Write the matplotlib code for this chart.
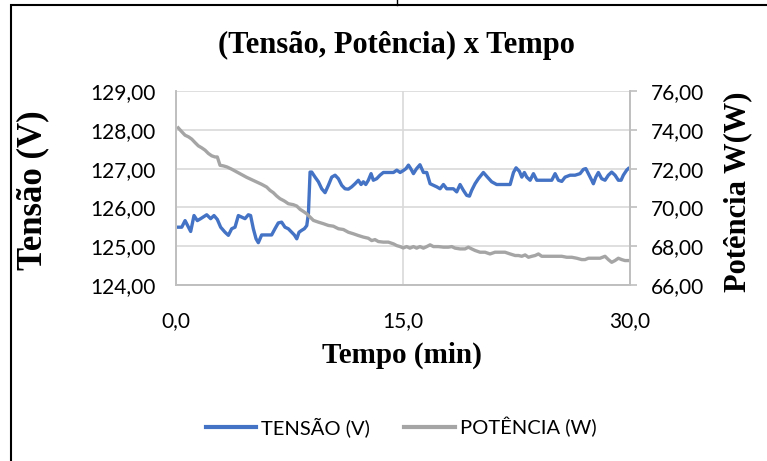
import matplotlib
matplotlib.use("Agg")
from matplotlib import pyplot as plt
from matplotlib.lines import Line2D
from matplotlib.patches import Rectangle

# tensao (V)
t_tensao = [0.15, 0.38, 0.60, 0.82, 0.97, 1.19, 1.41, 1.63, 2.03, 2.29, 2.51, 2.73, 2.95, 3.24,
            3.46, 3.68, 3.90, 4.12, 4.34, 4.56, 4.78, 4.93, 5.11, 5.29, 5.44, 5.66, 5.99, 6.32,
            6.54, 6.76, 6.98, 7.20, 7.42, 7.64, 7.82, 7.98, 8.13, 8.31, 8.48, 8.64, 8.75, 8.86,
            8.97, 9.19, 9.41, 9.63, 9.85, 10.07, 10.29, 10.51, 10.73, 10.95, 11.17, 11.39, 11.61,
            11.83, 12.05, 12.23, 12.38, 12.54, 12.71, 12.89, 13.04, 13.26, 13.48, 13.70, 14.03,
            14.37, 14.59, 14.81, 15.02, 15.20, 15.36, 15.51, 15.69, 15.90, 16.12, 16.35, 16.57,
            16.79, 17.01, 17.23, 17.45, 17.67, 17.89, 18.11, 18.33, 18.55, 18.77, 18.99, 19.21,
            19.39, 19.54, 19.76, 19.98, 20.31, 20.58, 20.86, 21.19, 21.63, 22.08, 22.30, 22.47,
            22.69, 22.85, 23.02, 23.18, 23.40, 23.62, 23.84, 24.17, 24.50, 24.83, 25.05, 25.27,
            25.49, 25.71, 26.04, 26.37, 26.70, 26.92, 27.08, 27.25, 27.47, 27.58, 27.74, 27.91,
            28.13, 28.35, 28.57, 28.79, 29.01, 29.23, 29.41, 29.56, 29.78, 29.89]
tensao = [125.49, 125.49, 125.66, 125.49, 125.38, 125.79, 125.66, 125.71, 125.81, 125.71, 125.79,
          125.69, 125.49, 125.36, 125.28, 125.45, 125.49, 125.79, 125.75, 125.71, 125.81, 125.79,
          125.45, 125.19, 125.09, 125.29, 125.29, 125.29, 125.45, 125.60, 125.62, 125.49, 125.45,
          125.36, 125.29, 125.19, 125.36, 125.41, 125.45, 125.53, 125.84, 126.91, 126.91, 126.78,
          126.66, 126.48, 126.38, 126.57, 126.78, 126.83, 126.74, 126.57, 126.48, 126.47, 126.53,
          126.61, 126.70, 126.59, 126.66, 126.59, 126.70, 126.87, 126.70, 126.74, 126.83, 126.90,
          126.90, 126.90, 126.96, 126.90, 126.95, 127.00, 127.09, 127.00, 126.87, 127.00, 127.10,
          126.90, 126.90, 126.61, 126.57, 126.53, 126.48, 126.59, 126.48, 126.48, 126.48, 126.40,
          126.59, 126.44, 126.31, 126.29, 126.44, 126.61, 126.74, 126.90, 126.78, 126.66, 126.59,
          126.59, 126.59, 126.90, 127.02, 126.93, 126.78, 126.90, 126.78, 126.70, 126.87, 126.70,
          126.70, 126.70, 126.70, 126.87, 126.70, 126.67, 126.78, 126.83, 126.83, 126.87, 126.98,
          127.00, 126.87, 126.70, 126.61, 126.78, 126.90, 126.74, 126.70, 126.83, 126.91, 126.83,
          126.70, 126.70, 126.83, 126.96, 127.00]

# potencia (W)
t_potencia = [0.15, 0.38, 0.60, 0.82, 1.04, 1.26, 1.48, 1.70, 1.92, 2.14, 2.36, 2.58, 2.73, 2.91,
              3.13, 3.35, 3.68, 4.01, 4.34, 4.67, 5.00, 5.33, 5.66, 5.99, 6.21, 6.43, 6.65, 6.87,
              7.09, 7.20, 7.42, 7.75, 7.98, 8.20, 8.42, 8.64, 8.86, 9.08, 9.41, 9.74, 10.07, 10.40,
              10.73, 11.06, 11.39, 11.72, 12.05, 12.38, 12.71, 12.93, 13.15, 13.37, 13.70, 14.03,
              14.37, 14.59, 14.81, 15.02, 15.24, 15.46, 15.69, 15.90, 16.12, 16.35, 16.57, 16.79,
              17.01, 17.34, 17.67, 18.00, 18.22, 18.44, 18.77, 19.10, 19.32, 19.54, 19.76, 20.09,
              20.42, 20.75, 21.08, 21.41, 21.74, 22.08, 22.41, 22.63, 22.85, 23.07, 23.29, 23.51,
              23.73, 23.95, 24.17, 24.50, 24.83, 25.16, 25.49, 25.82, 26.15, 26.48, 26.81, 27.03,
              27.25, 27.69, 28.02, 28.35, 28.57, 28.79, 29.01, 29.23, 29.45, 29.67, 29.89]
potencia = [74.10, 73.90, 73.72, 73.64, 73.52, 73.34, 73.17, 73.07, 72.95, 72.78, 72.66, 72.60,
            72.60, 72.17, 72.14, 72.09, 71.97, 71.83, 71.69, 71.55, 71.43, 71.31, 71.19, 71.05,
            70.88, 70.76, 70.59, 70.45, 70.36, 70.31, 70.19, 70.14, 70.07, 69.90, 69.79, 69.67,
            69.50, 69.33, 69.24, 69.16, 69.07, 69.03, 68.90, 68.86, 68.72, 68.64, 68.55, 68.47,
            68.41, 68.29, 68.34, 68.24, 68.21, 68.21, 68.12, 68.03, 67.98, 67.91, 67.98, 67.90,
            67.98, 67.90, 67.98, 67.90, 67.98, 68.07, 67.98, 67.98, 67.95, 67.95, 67.98, 67.90,
            67.86, 67.86, 67.95, 67.86, 67.78, 67.69, 67.69, 67.60, 67.69, 67.69, 67.69, 67.60,
            67.52, 67.52, 67.48, 67.55, 67.43, 67.48, 67.52, 67.60, 67.48, 67.48, 67.48, 67.48,
            67.48, 67.43, 67.43, 67.38, 67.31, 67.31, 67.38, 67.38, 67.38, 67.48, 67.31, 67.17,
            67.26, 67.38, 67.31, 67.26, 67.26]

x_ticks = [0, 15, 30]
x_labels = ['0,0', '15,0', '30,0']
v_ticks = [124, 125, 126, 127, 128, 129]
w_ticks = [66, 68, 70, 72, 74, 76]

azul = '#4472C4'
cinza = '#A5A5A5'
serif = 'Liberation Serif'
sans = 'Lato'

W, H = 767, 461
fig = plt.figure(figsize=(W / 100, H / 100), dpi=100)
ax = fig.add_axes([176 / W, 1 - 285 / H, (630 - 176) / W, (285 - 91) / H])
ax2 = ax.twinx()

ax.plot(t_tensao, tensao, color=azul, lw=2.4, solid_joinstyle='round')
ax2.plot(t_potencia, potencia, color=cinza, lw=2.4, solid_joinstyle='round')

ax.set_xlim(0, 30)
ax.set_ylim(124, 129)
ax2.set_ylim(66, 76)
ax.set_xticks(x_ticks)
ax.set_xticklabels(x_labels, fontfamily=sans, fontsize=15)
ax.set_yticks(v_ticks)
ax.set_yticklabels([('%.2f' % v).replace('.', ',') for v in v_ticks], fontfamily=sans, fontsize=15)
ax2.set_yticks(w_ticks)
ax2.set_yticklabels([('%.2f' % v).replace('.', ',') for v in w_ticks], fontfamily=sans, fontsize=15)

ax.grid(True, color='#D9D9D9', lw=1.2)
ax.set_axisbelow(True)
ax.tick_params(axis='both', length=0, pad=15, colors='black')
ax.tick_params(axis='x', pad=19)
ax2.tick_params(axis='y', length=5, width=1.2, color='#BFBFBF', pad=10, labelcolor='black')
for a in (ax, ax2):
    for s in a.spines.values():
        s.set_color('#BFBFBF')
        s.set_linewidth(1.2)
    a.spines['top'].set_visible(False)

fig.text(396 / W, 1 - 45 / H, '(Tensão, Potência) x Tempo', ha='center', va='center',
         fontfamily=serif, fontweight='bold', fontsize=22)
fig.text(33 / W, 1 - 190 / H, 'Tensão (V)', rotation=90, ha='center', va='center',
         fontfamily=serif, fontweight='bold', fontsize=25)
fig.text(738 / W, 1 - 192 / H, 'Potência W(W)', rotation=90, ha='center', va='center',
         fontfamily=serif, fontweight='bold', fontsize=22)
fig.text(402 / W, 1 - 355 / H, 'Tempo (min)', ha='center', va='center',
         fontfamily=serif, fontweight='bold', fontsize=21)

handles = [Line2D([], [], color=azul, lw=3), Line2D([], [], color=cinza, lw=3)]
fig.legend(handles, ['TENSÃO (V)', 'POTÊNCIA (W)'], loc='center',
           bbox_to_anchor=(401 / W, 1 - 427 / H), ncol=2, frameon=False,
           prop={'family': sans, 'size': 14.5}, handlelength=2.5, handletextpad=0.25,
           columnspacing=1.7)

# moldura da figura
fig.patches.append(Rectangle((11 / W, -0.1), 1.2, 1.1 - 5 / H, transform=fig.transFigure,
                             fill=False, edgecolor='black', lw=1.5))
fig.add_artist(Line2D([397 / W, 397 / W], [1 - 5 / H, 1], transform=fig.transFigure,
                      color='black', lw=1))

fig.savefig('out.png', dpi=100)
